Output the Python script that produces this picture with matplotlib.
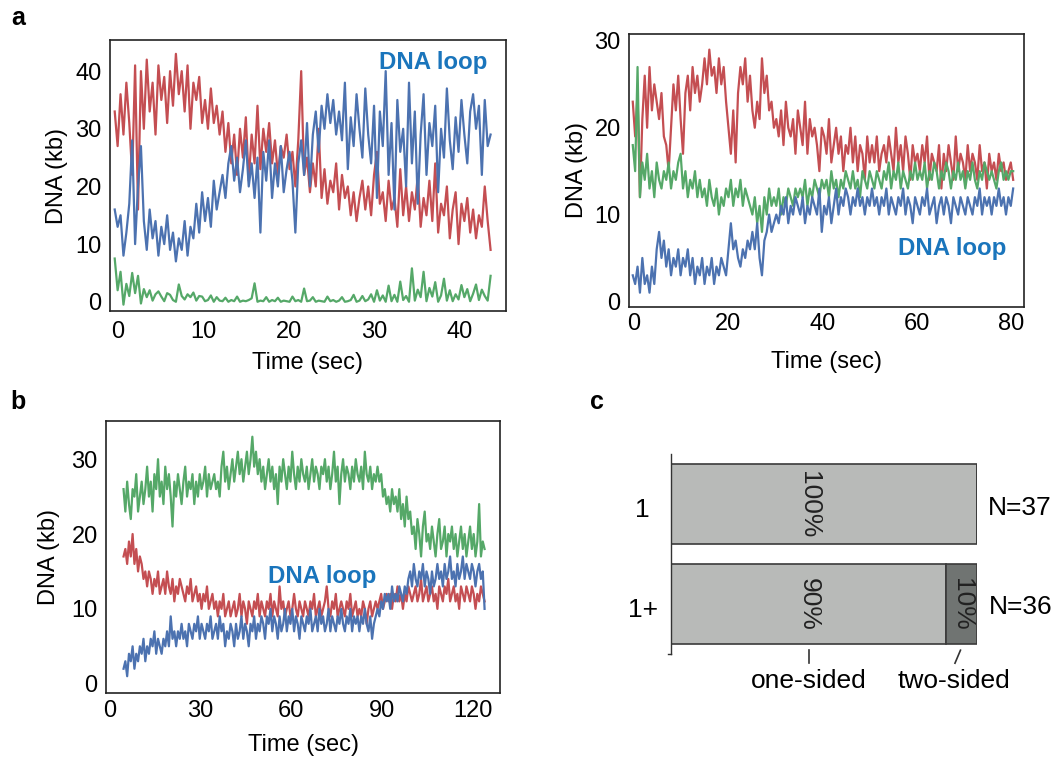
import numpy as np
import matplotlib
matplotlib.use("Agg")
import matplotlib.pyplot as plt

plt.rcParams['font.family'] = ['Liberation Sans', 'DejaVu Sans']

RED = '#C44E52'
BLUE = '#4C72B0'
GREEN = '#55A868'
LOOP = '#1a75bc'

# ---- panel a, left trace (time -0.3 .. 43.6 s) ----
a1_t = (-0.3, 43.6)
a1_red = [33, 27, 36, 29, 38, 31, 22, 41, 16, 40,
          30, 42, 33, 38, 29, 41, 35, 39, 31, 40,
          34, 43, 36, 40, 33, 41, 30, 38, 35, 39,
          31, 35, 30, 37, 31, 34, 29, 33, 26, 31,
          24, 29, 22, 30, 25, 32, 21, 29, 24, 34,
          23, 30, 26, 31, 24, 28, 22, 27, 25, 29,
          23, 26, 20, 28, 40, 22, 25, 19, 24, 20,
          30, 18, 23, 17, 21, 19, 24, 16, 22, 18,
          20, 15, 19, 14, 18, 21, 16, 20, 15, 22,
          26, 17, 19, 14, 21, 16, 18, 13, 23, 15,
          20, 14, 19, 16, 22, 13, 18, 15, 21, 14,
          24, 12, 17, 15, 20, 11, 16, 19, 10, 17,
          14, 18, 12, 16, 11, 15, 13, 20, 14, 9]
a1_blue = [16, 13, 15, 8, 12, 17, 28, 10, 20, 27,
           14, 9, 16, 11, 14, 8, 13, 10, 15, 9,
           12, 7, 11, 9, 14, 8, 13, 11, 17, 12,
           19, 14, 18, 13, 21, 16, 19, 22, 18, 24,
           27, 21, 25, 19, 23, 28, 20, 24, 18, 25,
           12, 26, 21, 28, 18, 24, 20, 27, 19, 23,
           26, 21, 12, 24, 28, 22, 31, 20, 29, 33,
           26, 34, 30, 36, 31, 35, 29, 33, 28, 38,
           23, 32, 27, 36, 30, 25, 37, 29, 24, 34,
           18, 33, 27, 40, 22, 31, 16, 35, 26, 30,
           20, 38, 24, 33, 17, 29, 36, 22, 31, 27,
           34, 19, 30, 25, 37, 28, 23, 32, 26, 35,
           29, 24, 33, 36, 30, 34, 22, 35, 27, 29]
a1_green = [7.5, 2.0, 5.2, -0.5, 3.1, 1.0, 5.0, 1.5, 4.5, -0.3,
            2.2, 0.8, 2.0, 0.2, 1.3, 1.8, 0.9, 0.1, 1.5, 1.2,
            0.3, 0.0, 3.0, 1.0, 0.4, 1.3, 0.8, 1.6, 0.2, 1.0,
            0.9, 0.1, 0.3, 1.1, 0.0, 0.8, 0.2, 0.1, 0.7, 0.0,
            0.3, 0.1, 0.9, 0.0, 0.2, 0.1, 0.3, 0.6, 3.2, 0.0,
            0.2, 0.1, 0.8, 0.0, 0.3, 0.1, 0.7, 0.0, 0.2, 0.1,
            0.0, 0.9, 0.1, 0.3, 0.0, 2.3, 0.1, 0.2, 0.8, 0.0,
            0.2, 0.1, 0.0, 0.9, 0.1, 0.3, 0.0, 0.2, 0.8, 0.0,
            0.1, 0.3, 1.2, 0.0, 0.2, 1.0, 0.1, 0.4, 1.3, 0.0,
            2.0, 0.2, 1.1, 0.0, 2.8, 0.1, 1.2, 0.0, 3.5, 0.3,
            1.0, 0.0, 5.8, 0.2, 2.1, 0.8, 5.2, 0.1, 2.4, 0.9,
            3.4, 0.0, 1.1, 4.0, 0.2, 2.0, 0.1, 1.3, 0.4, 2.9,
            0.8, 2.2, 0.1, 1.4, 3.0, 0.3, 2.1, 1.0, 0.2, 4.5]

# ---- panel a, right trace (time -0.3 .. 80.5 s) ----
a2_t = (-0.3, 80.5)
a2_red = [23, 19, 24, 12, 21, 26, 20, 27, 22, 25,
          23, 21, 24, 19, 18, 15, 20, 25, 22, 26,
          21, 17, 24, 26, 22, 27, 24, 26, 23, 25,
          28, 25, 29, 26, 27, 24, 28, 25, 27, 23,
          20, 17, 22, 16, 24, 27, 25, 28, 23, 26,
          22, 20, 23, 21, 28, 24, 26, 22, 23, 20,
          21, 19, 22, 18, 23, 20, 19, 21, 17, 22,
          20, 18, 23, 17, 21, 19, 20, 18, 15, 20,
          19, 17, 21, 16, 18, 20, 17, 19, 15, 18,
          17, 20, 16, 19, 15, 18, 17, 14, 19, 16,
          18, 16, 19, 15, 17, 18, 16, 19, 17, 15,
          20, 16, 18, 15, 19, 17, 14, 18, 16, 17,
          15, 18, 16, 19, 14, 17, 16, 15, 18, 13,
          17, 15, 18, 16, 14, 19, 15, 17, 16, 14,
          18, 15, 17, 16, 14, 18, 15, 16, 13, 17,
          15, 16, 14, 17, 15, 16, 14, 15, 16, 14]
a2_green = [18, 15, 27, 12, 16, 14, 17, 13, 15, 12,
            16, 14, 13, 15, 14, 16, 13, 15, 14, 16,
            17, 13, 15, 12, 14, 13, 15, 12, 14, 12,
            13, 11, 14, 12, 11, 13, 10, 12, 11, 13,
            12, 14, 11, 13, 12, 14, 11, 13, 12, 11,
            10, 12, 9, 11, 8, 12, 10, 13, 11, 12,
            11, 13, 10, 12, 11, 13, 12, 11, 13, 12,
            13, 12, 14, 11, 13, 12, 14, 13, 12, 14,
            13, 14, 12, 15, 13, 14, 12, 14, 13, 15,
            14, 13, 15, 13, 14, 12, 15, 14, 13, 15,
            14, 13, 15, 14, 13, 15, 14, 16, 13, 15,
            14, 16, 13, 15, 14, 13, 15, 14, 16, 14,
            15, 14, 16, 13, 15, 14, 16, 15, 13, 15,
            14, 16, 15, 13, 15, 14, 16, 14, 15, 13,
            15, 14, 16, 14, 13, 15, 14, 16, 15, 14,
            15, 14, 13, 15, 16, 14, 15, 14, 15, 15]
a2_blue = [3, 2, 4, 1, 5, 2, 3, 1, 4, 2,
           6, 8, 5, 7, 4, 6, 3, 5, 4, 6,
           3, 5, 4, 6, 3, 5, 2, 4, 3, 5,
           2, 4, 3, 5, 2, 4, 3, 5, 4, 3,
           6, 9, 6, 7, 5, 4, 6, 5, 7, 6,
           8, 6, 9, 5, 3, 7, 8, 10, 8, 9,
           10, 9, 11, 10, 12, 9, 11, 10, 12, 11,
           10, 12, 9, 11, 10, 12, 11, 10, 13, 8,
           11, 10, 12, 9, 11, 13, 10, 12, 11, 13,
           12, 10, 12, 11, 13, 11, 12, 10, 12, 11,
           13, 11, 12, 10, 12, 11, 13, 10, 12, 11,
           10, 12, 11, 13, 10, 12, 11, 9, 12, 11,
           10, 12, 11, 13, 10, 11, 12, 9, 11, 12,
           10, 12, 11, 9, 12, 11, 10, 12, 11, 10,
           12, 11, 10, 12, 11, 13, 10, 12, 11, 12,
           10, 12, 11, 13, 11, 12, 10, 12, 11, 13]

# ---- panel b (time 4.5 .. 123.9 s) ----
b_t = (4.5, 123.9)
b_green = [26, 23, 27, 24, 22, 26, 25, 28, 23, 25,
           27, 24, 26, 29, 25, 27, 23, 28, 26, 30,
           25, 27, 24, 29, 26, 28, 25, 21, 27, 25,
           28, 26, 24, 27, 29, 25, 27, 26, 28, 24,
           27, 25, 28, 26, 27, 29, 25, 28, 26, 27,
           28, 26, 27, 25, 29, 31, 27, 29, 26, 28,
           30, 27, 29, 31, 28, 30, 27, 29, 31, 28,
           30, 33, 29, 31, 28, 30, 27, 29, 26, 28,
           30, 27, 29, 26, 28, 24, 29, 27, 30, 28,
           26, 29, 27, 31, 28, 26, 29, 27, 30, 28,
           27, 29, 26, 28, 30, 27, 29, 28, 26, 29,
           28, 30, 27, 29, 26, 28, 31, 27, 29, 24,
           28, 30, 27, 29, 28, 26, 29, 27, 30, 28,
           27, 29, 26, 31, 28, 27, 29, 26, 28, 27,
           29, 27, 28, 25, 26, 24, 25, 23, 26, 24,
           25, 23, 26, 22, 24, 21, 25, 22, 23, 20,
           21, 18, 22, 20, 17, 21, 23, 19, 20, 18,
           21, 19, 17, 20, 22, 18, 19, 21, 17, 20,
           19, 21, 18, 20, 17, 19, 21, 18, 20, 17,
           19, 21, 18, 20, 17, 19, 24, 17, 19, 18]
b_red = [17, 18, 16, 19, 17, 20, 16, 18, 15, 17,
         16, 14, 15, 13, 15, 14, 12, 14, 13, 15,
         12, 13, 14, 12, 15, 13, 12, 14, 11, 13,
         12, 14, 13, 12, 11, 13, 12, 14, 11, 12,
         13, 11, 12, 10, 12, 11, 13, 10, 11, 12,
         10, 11, 9, 11, 10, 12, 9, 10, 11, 9,
         10, 11, 9, 10, 12, 9, 11, 10, 8, 11,
         10, 9, 11, 10, 12, 9, 11, 10, 9, 11,
         10, 12, 9, 11, 10, 9, 13, 10, 11, 9,
         10, 11, 9, 10, 12, 10, 9, 11, 10, 9,
         11, 10, 9, 11, 10, 12, 9, 10, 11, 9,
         10, 11, 13, 10, 9, 11, 10, 12, 9, 10,
         11, 10, 9, 11, 10, 12, 9, 10, 11, 9,
         10, 9, 11, 10, 8, 10, 11, 9, 10, 11,
         10, 11, 12, 10, 11, 12, 11, 12, 10, 12,
         11, 13, 11, 12, 10, 12, 11, 13, 12, 11,
         12, 13, 11, 12, 14, 11, 12, 13, 11, 12,
         13, 11, 12, 10, 13, 12, 11, 13, 12, 14,
         11, 12, 13, 11, 12, 10, 13, 12, 11, 13,
         12, 11, 13, 12, 10, 12, 11, 13, 12, 11]
b_blue = [2, 3, 1, 4, 3, 5, 2, 4, 3, 5,
          4, 6, 3, 5, 4, 6, 5, 7, 4, 6,
          5, 4, 6, 5, 7, 5, 9, 6, 7, 5,
          7, 6, 8, 6, 7, 5, 8, 7, 6, 8,
          7, 9, 6, 8, 7, 6, 8, 7, 9, 6,
          7, 8, 6, 9, 7, 8, 5, 7, 6, 8,
          7, 5, 8, 6, 7, 9, 6, 8, 7, 5,
          8, 7, 9, 6, 8, 7, 9, 8, 6, 9,
          8, 10, 7, 9, 8, 6, 9, 7, 8, 10,
          7, 9, 8, 10, 7, 9, 8, 6, 9, 8,
          7, 9, 8, 10, 7, 8, 9, 7, 10, 8,
          9, 7, 8, 10, 7, 9, 8, 7, 9, 8,
          10, 8, 7, 9, 8, 10, 7, 9, 8, 9,
          7, 9, 8, 10, 8, 7, 9, 6, 8, 9,
          10, 9, 11, 10, 12, 11, 12, 10, 13, 11,
          12, 11, 13, 12, 11, 13, 12, 14, 15, 13,
          16, 14, 13, 15, 14, 16, 13, 15, 14, 12,
          15, 13, 14, 16, 14, 15, 13, 16, 14, 15,
          17, 14, 15, 13, 16, 14, 15, 17, 14, 16,
          15, 14, 16, 15, 13, 15, 16, 14, 15, 10]

# ---- panel c ----
c_groups = ['1', '1+']
c_one_sided = [100, 90]
c_two_sided = [0, 10]
c_n = [37, 36]

W, H = 1059, 760
fig = plt.figure(figsize=(W / 100, H / 100), dpi=100)


def px_axes(x0, y0, x1, y1):
    return fig.add_axes([x0 / W, 1 - y1 / H, (x1 - x0) / W, (y1 - y0) / H])


def trace_axes(ax, xlim, ylim, xticks, yticks, xpad, xlabpad, ylabpad):
    ax.set_xlim(*xlim)
    ax.set_ylim(*ylim)
    ax.set_xticks(xticks)
    ax.set_yticks(yticks)
    ax.tick_params(length=0, labelsize=17)
    ax.tick_params(axis='x', pad=xpad)
    ax.tick_params(axis='y', pad=6)
    for s in ax.spines.values():
        s.set_linewidth(1.2)
        s.set_color('#222222')
    ax.set_xlabel('Time (sec)', fontsize=17, labelpad=xlabpad)
    ax.set_ylabel('DNA (kb)', fontsize=17, labelpad=ylabpad)


def draw(ax, tr, series):
    for vals, col in series:
        t = np.linspace(tr[0], tr[1], len(vals))
        ax.plot(t, vals, color=col, lw=1.6)


ax1 = px_axes(110, 40, 506, 311)
draw(ax1, a1_t, [(a1_red, RED), (a1_blue, BLUE), (a1_green, GREEN)])
trace_axes(ax1, (-0.85, 45.4), (-1.6, 45.4), [0, 10, 20, 30, 40], [0, 10, 20, 30, 40],
           7, 6.5, 5)

ax2 = px_axes(629, 34, 1024, 307)
draw(ax2, a2_t, [(a2_red, RED), (a2_green, GREEN), (a2_blue, BLUE)])
trace_axes(ax2, (-1.1, 82.8), (-0.65, 30.8), [0, 20, 40, 60, 80], [0, 10, 20, 30],
           4, 12, 4.5)

ax3 = px_axes(106, 421, 500, 693)
draw(ax3, b_t, [(b_green, GREEN), (b_red, RED), (b_blue, BLUE)])
trace_axes(ax3, (-1.3, 129), (-1.24, 35.1), [0, 30, 60, 90, 120], [0, 10, 20, 30],
           5, 8.5, 8)

# DNA loop labels
for (x, y) in [(433, 62), (952, 248), (322, 576)]:
    fig.text(x / W, 1 - y / H, 'DNA loop', color=LOOP, fontsize=17.3,
             fontweight='bold', ha='center', va='center')

# panel letters
for (x, y, s) in [(18, 18, 'a'), (18, 402, 'b'), (597, 402, 'c')]:
    fig.text(x / W, 1 - y / H, s, fontsize=18, fontweight='bold',
             ha='center', va='center')

# ---- panel c bars ----
ax4 = px_axes(671, 454, 977, 654)
ypos = [1, 0]
ax4.barh(ypos, c_one_sided, height=0.8, color='#b8bab8', edgecolor='#3a3a3a', lw=1.2)
ax4.barh(ypos, c_two_sided, left=c_one_sided, height=0.8, color='#707472',
         edgecolor='#3a3a3a', lw=1.2)
ax4.set_xlim(0, 100)
ax4.set_ylim(-0.498, 1.502)
for s in ['top', 'right', 'bottom']:
    ax4.spines[s].set_visible(False)
ax4.spines['left'].set_linewidth(1.0)
ax4.spines['left'].set_color('#333333')
ax4.set_xticks([])
ax4.set_yticks([])
ax4.plot([0, -1.1], [-0.498, -0.498], color='#333333', lw=1.0, clip_on=False)
lab_y = [0.942, -0.058]
n_y = [0.959, -0.025]
n_x = [103.5, 104.0]
for y, ly, ny, nx, g, one, two, n in zip(ypos, lab_y, n_y, n_x, c_groups,
                                         c_one_sided, c_two_sided, c_n):
    ax4.text(-9.3, ly, g, fontsize=19, ha='center', va='center', clip_on=False)
    ax4.text(45, y, f'{one}%', fontsize=19, rotation=270, ha='center',
             va='center', color='#222222')
    if two > 0:
        ax4.text(one + two / 2, y, f'{two}%', fontsize=19, rotation=270,
                 ha='center', va='center', color='#222222')
    ax4.text(nx, ny, f'N={n}', fontsize=19, ha='left', va='center', clip_on=False)
ax4.plot([45, 45], [-0.46, -0.59], color='#333333', lw=1.2, clip_on=False)
ax4.plot([94.6, 92.8], [-0.46, -0.59], color='#333333', lw=1.2, clip_on=False)
ax4.text(45, -0.77, 'one-sided', fontsize=19, ha='center', va='center', clip_on=False)
ax4.text(92.5, -0.77, 'two-sided', fontsize=19, ha='center', va='center', clip_on=False)

fig.savefig('out.png', dpi=100)
